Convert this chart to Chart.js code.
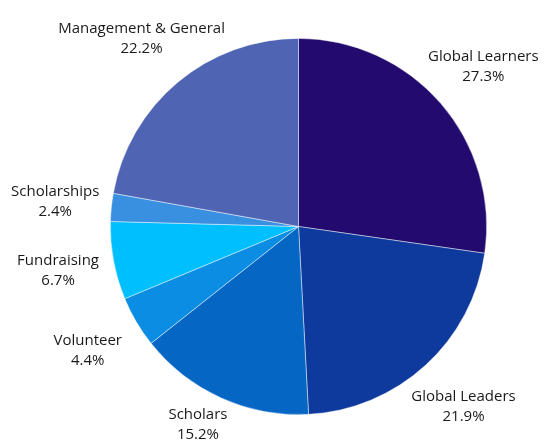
<!DOCTYPE html>
<html>
<head>
<meta charset="utf-8">
<script src="https://cdn.jsdelivr.net/npm/chart.js@4"></script>
<style>
  html, body { margin: 0; padding: 0; background: #fff; }
  #wrap { width: 549px; height: 445px; position: relative; }
</style>
</head>
<body>
<div id="wrap"><canvas id="pieChart"></canvas></div>
<script>
const categories = ['Global Learners', 'Global Leaders', 'Scholars', 'Volunteer', 'Fundraising', 'Scholarships', 'Management & General'];
const shares = [27.3, 21.9, 15.2, 4.4, 6.7, 2.4, 22.2];
const sliceColors = ['#230a6e', '#0e3a9e', '#0566c4', '#0a8de2', '#00bfff', '#3990e0', '#5064b4'];

// Outside labels: name on top, percent below, kept inside the canvas
const outsideLabels = {
    id: 'outsideLabels',
    afterDatasetsDraw(chart) {
        const ctx = chart.ctx;
        const meta = chart.getDatasetMeta(0);
        ctx.save();
        ctx.font = "15px 'Open Sans', sans-serif";
        ctx.fillStyle = '#1a1a1a';
        ctx.textAlign = 'center';
        ctx.textBaseline = 'middle';
        const lineH = 20;
        meta.data.forEach((arc, i) => {
            const p = arc.getProps(['x', 'y', 'startAngle', 'endAngle', 'outerRadius'], true);
            const mid = (p.startAngle + p.endAngle) / 2;
            const lines = [categories[i], shares[i].toFixed(1) + '%'];
            const w = Math.max(...lines.map(t => ctx.measureText(t).width));
            const h = lineH * lines.length;
            const r = p.outerRadius * 1.3;
            let cx = p.x + Math.cos(mid) * r;
            let cy = p.y + Math.sin(mid) * r;
            cx = Math.min(Math.max(cx, w / 2 + 2), chart.width - w / 2 - 2);
            cy = Math.min(Math.max(cy, h / 2), chart.height - h / 2);
            lines.forEach((t, j) => {
                ctx.fillText(t, cx, cy - h / 2 + lineH * (j + 0.5));
            });
        });
        ctx.restore();
    }
};

new Chart(document.getElementById('pieChart').getContext('2d'), {
    type: 'pie',
    data: {
        labels: categories,
        datasets: [{
            data: shares,
            backgroundColor: sliceColors,
            borderColor: 'rgba(255, 255, 255, 0.6)',
            borderWidth: 0.75
        }]
    },
    options: {
        responsive: true,
        maintainAspectRatio: false,
        animation: false,
        layout: {
            padding: { top: 38, bottom: 30, left: 110, right: 62 }
        },
        plugins: {
            legend: { display: false },
            tooltip: { enabled: false }
        }
    },
    plugins: [outsideLabels]
});
</script>
</body>
</html>
